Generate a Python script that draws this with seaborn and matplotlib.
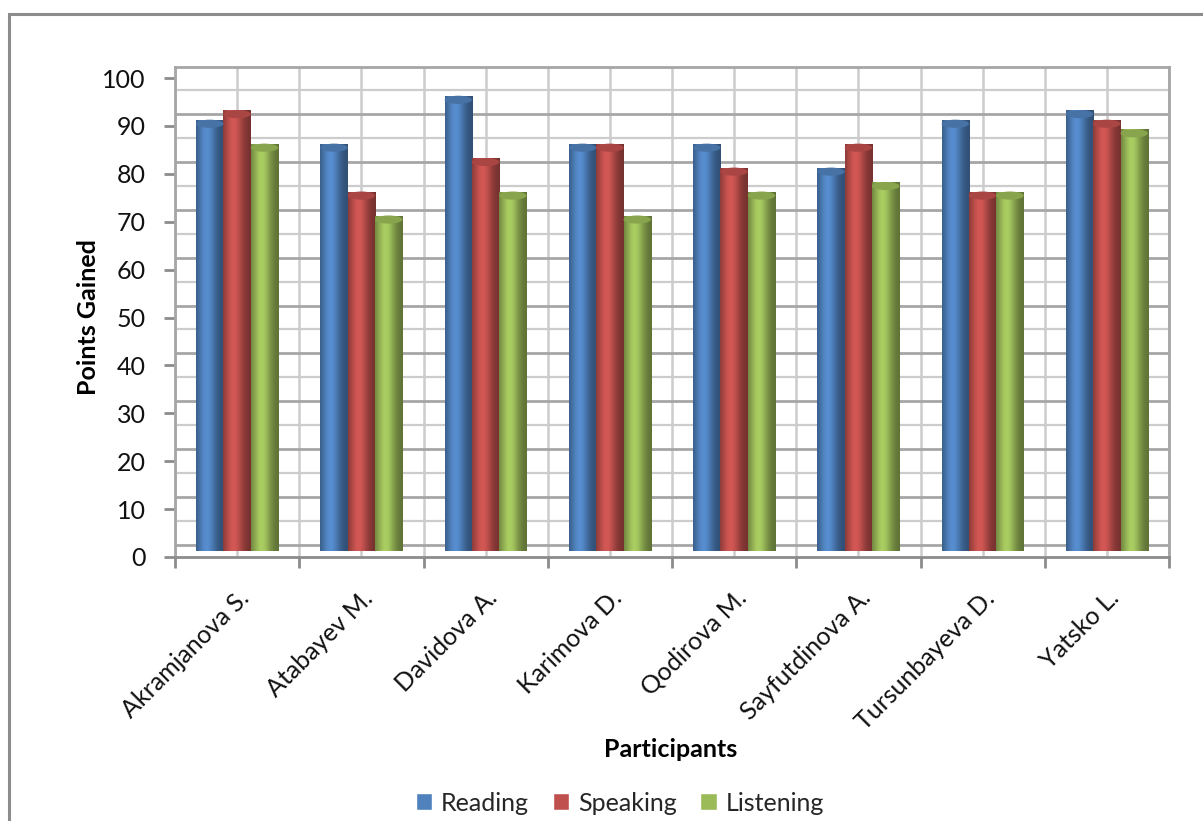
import numpy as np
import pandas as pd
import matplotlib
matplotlib.use("Agg")
import matplotlib.pyplot as plt
import seaborn as sns
from matplotlib.patches import Rectangle, Ellipse
from matplotlib.colors import to_rgb
from matplotlib.transforms import ScaledTranslation

participants = ["Akramjanova S.", "Atabayev M.", "Davidova A.", "Karimova D.",
                "Qodirova M.", "Sayfutdinova A.", "Tursunbayeva D.", "Yatsko L."]
reading = [90, 85, 95, 85, 85, 80, 90, 92]
speaking = [92, 75, 82, 85, 80, 85, 75, 90]
listening = [85, 70, 75, 70, 75, 77, 75, 88]
series = ["Reading", "Speaking", "Listening"]
colors = ["#4F81BD", "#C0504D", "#9BBB59"]
y_ticks = list(range(0, 101, 10))

df = pd.DataFrame({
    "Participant": participants * 3,
    "Skill": [s for s in series for _ in participants],
    "Points": reading + speaking + listening,
})

sns.set_theme(style="white")
plt.rcParams["font.family"] = ["Lato", "DejaVu Sans"]

W, H = 1203, 821
fig = plt.figure(figsize=(W / 100, H / 100), dpi=100)
ax = fig.add_axes([175 / W, (H - 557) / H, (1169 - 175) / W, (557 - 67) / H])

ymax = 102.3
ax.set_ylim(0, ymax)
ax.set_xlim(-0.5, len(participants) - 0.5)

# back-wall gridlines (offset like the 3-D original)
for k in range(20):
    yv = 2.5 + 5 * k
    ax.axhline(yv, color="#a6a6a6" if k % 2 == 0 else "#cccccc",
               lw=2.0 if k % 2 == 0 else 1.6, zorder=0.5)
for k in range(2 * len(participants) + 1):
    ax.axvline(-0.5 + 0.5 * k, color="#cccccc", lw=1.8, zorder=0.4)

sns.barplot(data=df, x="Participant", y="Points", hue="Skill", order=participants,
            hue_order=series, palette=colors, width=0.66, dodge=True,
            saturation=1, ax=ax, legend=False, zorder=2, linewidth=0)

# depth offset (bars sit mid-depth in the 3-D original)
lift = ScaledTranslation(0, 6 / 100, fig.dpi_scale_trans)

# cylinder shading
bars = [p for p in ax.patches if isinstance(p, Rectangle) and p.get_height() > 0]
gx = np.linspace(0, 1, 64)
shade = 0.6 + 0.5 * np.exp(-((gx - 0.38) / 0.34) ** 2)
for p in bars:
    p.set_transform(ax.transData + lift)
    base = np.array(to_rgb(p.get_facecolor()))
    grad = np.clip(base[None, :] * shade[:, None], 0, 1)
    img = np.tile(grad[None, :, :], (2, 1, 1))
    x0, w, h = p.get_x(), p.get_width(), p.get_height()
    im = ax.imshow(img, extent=(x0, x0 + w, 0, h), aspect="auto",
                   zorder=2.1, interpolation="bilinear")
    im.set_transform(ax.transData + lift)
    im.set_clip_path(p)
    cap = Ellipse((x0 + w / 2, h - 0.8), w, 1.7, facecolor=np.clip(base * 0.88, 0, 1),
                  edgecolor="none", zorder=2.3)
    ax.add_patch(cap)
    cap.set_transform(ax.transData + lift)
ax.set_xlim(-0.5, len(participants) - 0.5)
ax.set_ylim(0, ymax)

# spines
for s in ["left", "top", "right"]:
    ax.spines[s].set_color("#a6a6a6")
    ax.spines[s].set_linewidth(2)
ax.spines["bottom"].set_color("#8c8c8c")
ax.spines["bottom"].set_linewidth(2)

FS = 18
ax.set_yticks(y_ticks)
ax.set_yticklabels([str(v) for v in y_ticks], fontsize=FS, color="#111111")
ax.tick_params(axis="y", which="major", left=True, length=8, width=2,
               color="#8c8c8c", pad=13)

ax.set_xticks(range(len(participants)))
ax.set_xticklabels(participants, rotation=45, ha="right", rotation_mode="anchor",
                   fontsize=FS, color="#111111")
ax.tick_params(axis="x", which="major", bottom=False, length=0, pad=21)
ax.set_xticks([i - 0.5 for i in range(len(participants) + 1)], minor=True)
ax.tick_params(axis="x", which="minor", bottom=True, length=8, width=2, color="#8c8c8c")
ax.set_xlabel("")
ax.set_ylabel("")

fig.text(88 / W, 1 - 317 / H, "Points Gained", rotation=90, ha="center", va="center",
         fontsize=FS, fontweight="bold", color="#000000")
fig.text(671 / W, 1 - 749 / H, "Participants", ha="center", va="center",
         fontsize=FS, fontweight="bold", color="#000000")

handles = [Rectangle((0, 0), 1, 1, facecolor=c) for c in colors]
fig.legend(handles, series, loc="center", bbox_to_anchor=(620 / W, 1 - 803 / H),
           ncol=3, frameon=False, fontsize=FS, handlelength=0.65, handleheight=0.65,
           handletextpad=0.35, columnspacing=0.95)

# chart border
fig.patches.append(Rectangle((9 / W, -0.05), 1.2, 1.05 - 14 / H, transform=fig.transFigure,
                             facecolor="none", edgecolor="#8c8c8c", lw=2.2))

fig.savefig("out.png", dpi=100)
